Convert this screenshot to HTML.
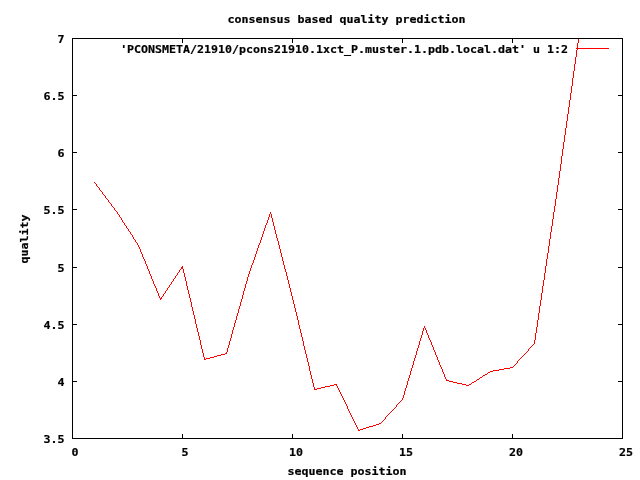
<!DOCTYPE html>
<html lang="en"><head><meta charset="utf-8"><title>consensus based quality prediction</title>
<style>html,body{margin:0;padding:0;background:#fff;overflow:hidden}svg{display:block}text{font-family:"DejaVu Sans Mono","Liberation Mono",monospace;font-weight:bold;font-size:11.627px;fill:#000;stroke:#000;stroke-width:0.2px;white-space:pre}</style></head><body>
<svg width="640" height="480" viewBox="0 0 640 480">
<rect width="640" height="480" fill="#fff"/>
<path fill="#f00" shape-rendering="crispEdges" d="M96 184v2h1v-2zM99 188v2h1v-2zM102 192v2h1v-2zM105 196v2h1v-2zM108 200v2h1v-2zM111 204v2h1v-2zM114 208v2h1v-2zM117 212v2h1v-2zM119 215v2h1v-2zM121 218v2h1v-2zM122 220v2h1v-2zM124 223v2h1v-2zM126 226v2h1v-2zM128 229v2h1v-2zM130 232v2h1v-2zM132 235v2h1v-2zM133 237v2h1v-2zM135 240v2h1v-2zM137 243v2h1v-2zM138 245v2h1v-2zM139 247v2h1v-2zM140 249v3h1v-3zM141 252v2h1v-2zM142 254v3h1v-3zM143 257v2h1v-2zM144 259v2h1v-2zM145 261v3h1v-3zM146 264v2h1v-2zM147 266v3h1v-3zM148 269v2h1v-2zM149 271v3h1v-3zM150 274v2h1v-2zM151 276v3h1v-3zM152 279v2h1v-2zM153 281v3h1v-3zM154 284v2h1v-2zM155 286v2h1v-2zM156 288v3h1v-3zM157 291v2h1v-2zM158 293v3h1v-3zM159 296v2h1v-2zM160 298v2h1v-2zM161 297v2h1v-2zM163 294v2h1v-2zM165 291v2h1v-2zM167 288v2h1v-2zM169 285v2h1v-2zM171 282v2h1v-2zM173 279v2h1v-2zM175 276v2h1v-2zM177 273v2h1v-2zM179 270v2h1v-2zM181 267v2h1v-2zM182 266v3h1v-3zM183 269v4h1v-4zM184 273v4h1v-4zM185 277v4h1v-4zM186 281v5h1v-5zM187 286v4h1v-4zM188 290v4h1v-4zM189 294v4h1v-4zM190 298v4h1v-4zM191 302v5h1v-5zM192 307v4h1v-4zM193 311v4h1v-4zM194 315v4h1v-4zM195 319v5h1v-5zM196 324v4h1v-4zM197 328v4h1v-4zM198 332v4h1v-4zM199 336v4h1v-4zM200 340v5h1v-5zM201 345v4h1v-4zM202 349v4h1v-4zM203 353v4h1v-4zM204 357v3h1v-3zM226 352v2h1v-2zM227 348v4h1v-4zM228 345v3h1v-3zM229 341v4h1v-4zM230 338v3h1v-3zM231 334v4h1v-4zM232 330v4h1v-4zM233 327v3h1v-3zM234 323v4h1v-4zM235 320v3h1v-3zM236 316v4h1v-4zM237 313v3h1v-3zM238 309v4h1v-4zM239 306v3h1v-3zM240 302v4h1v-4zM241 299v3h1v-3zM242 295v4h1v-4zM243 291v4h1v-4zM244 288v3h1v-3zM245 284v4h1v-4zM246 281v3h1v-3zM247 277v4h1v-4zM248 274v3h1v-3zM249 271v3h1v-3zM250 268v3h1v-3zM251 265v3h1v-3zM252 263v2h1v-2zM253 260v3h1v-3zM254 257v3h1v-3zM255 254v3h1v-3zM256 251v3h1v-3zM257 248v3h1v-3zM258 245v3h1v-3zM259 243v2h1v-2zM260 240v3h1v-3zM261 237v3h1v-3zM262 234v3h1v-3zM263 231v3h1v-3zM264 228v3h1v-3zM265 225v3h1v-3zM266 223v2h1v-2zM267 220v3h1v-3zM268 217v3h1v-3zM269 214v3h1v-3zM270 212v2h1v-2zM271 214v4h1v-4zM272 218v4h1v-4zM273 222v4h1v-4zM274 226v4h1v-4zM275 230v4h1v-4zM276 234v4h1v-4zM277 238v3h1v-3zM278 241v4h1v-4zM279 245v4h1v-4zM280 249v4h1v-4zM281 253v4h1v-4zM282 257v4h1v-4zM283 261v4h1v-4zM284 265v4h1v-4zM285 269v3h1v-3zM286 272v4h1v-4zM287 276v4h1v-4zM288 280v4h1v-4zM289 284v4h1v-4zM290 288v4h1v-4zM291 292v4h1v-4zM292 296v4h1v-4zM293 300v4h1v-4zM294 304v4h1v-4zM295 308v4h1v-4zM296 312v4h1v-4zM297 316v4h1v-4zM298 320v5h1v-5zM299 325v4h1v-4zM300 329v4h1v-4zM301 333v4h1v-4zM302 337v4h1v-4zM303 341v5h1v-5zM304 346v4h1v-4zM305 350v4h1v-4zM306 354v4h1v-4zM307 358v4h1v-4zM308 362v4h1v-4zM309 366v5h1v-5zM310 371v4h1v-4zM311 375v4h1v-4zM312 379v4h1v-4zM313 383v4h1v-4zM314 387v3h1v-3zM336 384v2h1v-2zM337 386v2h1v-2zM338 388v2h1v-2zM339 390v2h1v-2zM340 392v2h1v-2zM341 394v2h1v-2zM342 396v2h1v-2zM343 398v2h1v-2zM344 400v2h1v-2zM345 402v2h1v-2zM346 404v2h1v-2zM347 406v3h1v-3zM348 409v2h1v-2zM349 411v2h1v-2zM350 413v2h1v-2zM351 415v2h1v-2zM352 417v2h1v-2zM353 419v2h1v-2zM354 421v2h1v-2zM355 423v2h1v-2zM356 425v2h1v-2zM357 427v2h1v-2zM358 429v2h1v-2zM385 417v2h1v-2zM396 405v2h1v-2zM402 398v2h1v-2zM403 395v3h1v-3zM404 391v4h1v-4zM405 388v3h1v-3zM406 385v3h1v-3zM407 381v4h1v-4zM408 378v3h1v-3zM409 375v3h1v-3zM410 371v4h1v-4zM411 368v3h1v-3zM412 365v3h1v-3zM413 361v4h1v-4zM414 358v3h1v-3zM415 355v3h1v-3zM416 351v4h1v-4zM417 348v3h1v-3zM418 345v3h1v-3zM419 341v4h1v-4zM420 338v3h1v-3zM421 335v3h1v-3zM422 331v4h1v-4zM423 328v3h1v-3zM424 326v2h1v-2zM425 328v2h1v-2zM426 330v3h1v-3zM427 333v2h1v-2zM428 335v3h1v-3zM429 338v2h1v-2zM430 340v2h1v-2zM431 342v3h1v-3zM432 345v2h1v-2zM433 347v3h1v-3zM434 350v2h1v-2zM435 352v3h1v-3zM436 355v2h1v-2zM437 357v3h1v-3zM438 360v2h1v-2zM439 362v3h1v-3zM440 365v2h1v-2zM441 367v2h1v-2zM442 369v3h1v-3zM443 372v2h1v-2zM444 374v3h1v-3zM445 377v2h1v-2zM446 379v2h1v-2zM517 361v2h1v-2zM528 349v2h1v-2zM534 340v4h1v-4zM535 333v7h1v-7zM536 327v6h1v-6zM537 320v7h1v-7zM538 313v7h1v-7zM539 306v7h1v-7zM540 300v6h1v-6zM541 293v7h1v-7zM542 286v7h1v-7zM543 280v6h1v-6zM544 273v7h1v-7zM545 266v7h1v-7zM546 259v7h1v-7zM547 253v6h1v-6zM548 246v7h1v-7zM549 239v7h1v-7zM550 232v7h1v-7zM551 226v6h1v-6zM552 219v7h1v-7zM553 212v7h1v-7zM554 206v6h1v-6zM555 199v7h1v-7zM556 192v7h1v-7zM557 185v7h1v-7zM558 178v7h1v-7zM559 171v7h1v-7zM560 164v7h1v-7zM561 156v8h1v-8zM562 149v7h1v-7zM563 142v7h1v-7zM564 135v7h1v-7zM565 128v7h1v-7zM566 121v7h1v-7zM567 114v7h1v-7zM568 107v7h1v-7zM569 100v7h1v-7zM570 93v7h1v-7zM571 86v7h1v-7zM572 78v8h1v-8zM573 71v7h1v-7zM574 64v7h1v-7zM575 57v7h1v-7zM576 50v7h1v-7zM577 43v7h1v-7zM578 39v4h1v-4zM576 48h1v1h-1zM578 48h31v1h-31zM94 182h1v1h-1zM95 183h1v1h-1zM97 186h1v1h-1zM98 187h1v1h-1zM100 190h1v1h-1zM101 191h1v1h-1zM103 194h1v1h-1zM104 195h1v1h-1zM106 198h1v1h-1zM107 199h1v1h-1zM109 202h1v1h-1zM110 203h1v1h-1zM112 206h1v1h-1zM113 207h1v1h-1zM115 210h1v1h-1zM116 211h1v1h-1zM118 214h1v1h-1zM120 217h1v1h-1zM123 222h1v1h-1zM125 225h1v1h-1zM127 228h1v1h-1zM129 231h1v1h-1zM131 234h1v1h-1zM134 239h1v1h-1zM136 242h1v1h-1zM180 269h1v1h-1zM178 272h1v1h-1zM176 275h1v1h-1zM174 278h1v1h-1zM172 281h1v1h-1zM170 284h1v1h-1zM168 287h1v1h-1zM166 290h1v1h-1zM164 293h1v1h-1zM162 296h1v1h-1zM533 344h1v1h-1zM532 345h1v1h-1zM531 346h1v1h-1zM530 347h1v1h-1zM529 348h1v1h-1zM527 351h1v1h-1zM526 352h1v1h-1zM225 353h1v1h-1zM525 353h1v1h-1zM221 354h4v1h-4zM524 354h1v1h-1zM217 355h4v1h-4zM523 355h1v1h-1zM214 356h3v1h-3zM522 356h1v1h-1zM210 357h4v1h-4zM521 357h1v1h-1zM206 358h4v1h-4zM520 358h1v1h-1zM205 359h1v1h-1zM519 359h1v1h-1zM518 360h1v1h-1zM516 363h1v1h-1zM515 364h1v1h-1zM514 365h1v1h-1zM513 366h1v1h-1zM510 367h3v1h-3zM504 368h6v1h-6zM499 369h5v1h-5zM493 370h6v1h-6zM490 371h3v1h-3zM488 372h2v1h-2zM487 373h1v1h-1zM485 374h2v1h-2zM483 375h2v1h-2zM482 376h1v1h-1zM480 377h2v1h-2zM479 378h1v1h-1zM477 379h2v1h-2zM447 380h2v1h-2zM476 380h1v1h-1zM449 381h4v1h-4zM474 381h2v1h-2zM453 382h4v1h-4zM472 382h2v1h-2zM457 383h5v1h-5zM471 383h1v1h-1zM334 384h2v1h-2zM462 384h4v1h-4zM469 384h2v1h-2zM330 385h4v1h-4zM466 385h3v1h-3zM325 386h5v1h-5zM321 387h4v1h-4zM317 388h4v1h-4zM315 389h2v1h-2zM401 400h1v1h-1zM400 401h1v1h-1zM399 402h1v1h-1zM398 403h1v1h-1zM397 404h1v1h-1zM395 407h1v1h-1zM394 408h1v1h-1zM393 409h1v1h-1zM392 410h1v1h-1zM391 411h1v1h-1zM390 412h1v1h-1zM389 413h1v1h-1zM388 414h1v1h-1zM387 415h1v1h-1zM386 416h1v1h-1zM384 419h1v1h-1zM383 420h1v1h-1zM382 421h1v1h-1zM381 422h1v1h-1zM379 423h2v1h-2zM376 424h3v1h-3zM373 425h3v1h-3zM369 426h4v1h-4zM366 427h3v1h-3zM363 428h3v1h-3zM360 429h3v1h-3zM359 430h1v1h-1z"/>
<g stroke="#000" stroke-width="1" fill="none" shape-rendering="crispEdges">
<rect x="72.5" y="38.5" width="550" height="400"/>
<path d="M72 38.5h5M623 38.5h-5M72 95.5h5M623 95.5h-5M72 152.5h5M623 152.5h-5M72 209.5h5M623 209.5h-5M72 267.5h5M623 267.5h-5M72 324.5h5M623 324.5h-5M72 381.5h5M623 381.5h-5M72 438.5h5M623 438.5h-5M72.5 439v-5M72.5 38v5M182.5 439v-5M182.5 38v5M292.5 439v-5M292.5 38v5M402.5 439v-5M402.5 38v5M512.5 439v-5M512.5 38v5M622.5 439v-5M622.5 38v5"/>
</g>
<text transform="translate(64.5 43) scale(1 0.943)" text-anchor="end">7</text>
<text transform="translate(64.5 100) scale(1 0.943)" text-anchor="end">6.5</text>
<text transform="translate(64.5 157) scale(1 0.943)" text-anchor="end">6</text>
<text transform="translate(64.5 214) scale(1 0.943)" text-anchor="end">5.5</text>
<text transform="translate(64.5 272) scale(1 0.943)" text-anchor="end">5</text>
<text transform="translate(64.5 329) scale(1 0.943)" text-anchor="end">4.5</text>
<text transform="translate(64.5 386) scale(1 0.943)" text-anchor="end">4</text>
<text transform="translate(64.5 443) scale(1 0.943)" text-anchor="end">3.5</text>
<text transform="translate(75 456) scale(1 0.943)" text-anchor="middle">0</text>
<text transform="translate(185 456) scale(1 0.943)" text-anchor="middle">5</text>
<text transform="translate(296 456) scale(1 0.943)" text-anchor="middle">10</text>
<text transform="translate(406 456) scale(1 0.943)" text-anchor="middle">15</text>
<text transform="translate(516 456) scale(1 0.943)" text-anchor="middle">20</text>
<text transform="translate(626 456) scale(1 0.943)" text-anchor="middle">25</text>
<text transform="translate(346.5 23) scale(1 0.943)" text-anchor="middle">consensus based quality prediction</text>
<text transform="translate(347 475) scale(1 0.943)" text-anchor="middle">sequence position</text>
<text transform="translate(568 53) scale(1 0.943)" text-anchor="end">&#39;PCONSMETA/21910/pcons21910.1xct_P.muster.1.pdb.local.dat&#39; u 1:2</text>
<text transform="translate(28 239) rotate(-90) scale(1 0.943)" text-anchor="middle">quality</text>
</svg></body></html>
